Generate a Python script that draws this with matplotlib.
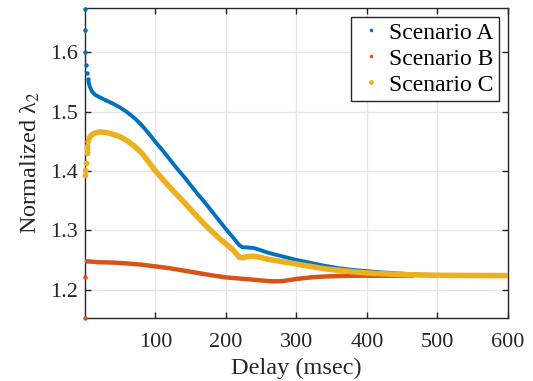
import matplotlib
matplotlib.use("Agg")
import matplotlib.pyplot as plt
from matplotlib.lines import Line2D

# ---------------- data ----------------
labels = ["Scenario A", "Scenario B", "Scenario C"]
colors = ["#0072BD", "#D95319", "#EDB120"]

# isolated first samples (near zero delay)
a_x_head = [0.1, 0.3, 0.6, 2.2, 3.2, 4.2]
a_y_head = [1.674, 1.6375, 1.6005, 1.579, 1.566, 1.556]
b_x_head = [0.1, 0.3]
b_y_head = [1.152, 1.221]
c_x_head = [0.1, 0.3, 1.0, 2.5, 3.0, 3.4]
c_y_head = [1.393, 1.4017, 1.414, 1.430, 1.4365, 1.442]

# dense part of each curve
a_x = [5, 7, 10, 15, 20, 30, 40, 50, 60, 70, 80, 90, 100, 110, 120, 130, 140,
       150, 160, 170, 180, 190, 200, 210, 218, 223, 230, 240, 250, 260, 270,
       280, 290, 300, 320, 340, 360, 380, 400, 420, 440, 460, 480, 500, 550, 600]
a_y = [1.551, 1.542, 1.534, 1.528, 1.525, 1.519, 1.5135, 1.507, 1.499, 1.4895,
       1.478, 1.464, 1.449, 1.435, 1.420, 1.405, 1.391, 1.376, 1.361, 1.347,
       1.332, 1.317, 1.302, 1.288, 1.276, 1.2715, 1.271, 1.270, 1.266, 1.262,
       1.259, 1.256, 1.253, 1.250, 1.245, 1.240, 1.236, 1.233, 1.231, 1.229,
       1.2275, 1.226, 1.225, 1.2245, 1.224, 1.2235]

b_x = [0.6, 10, 20, 40, 60, 80, 100, 120, 140, 160, 180, 200, 220, 240, 260,
       270, 280, 300, 320, 340, 360, 380, 400, 420, 440, 465]
b_y = [1.2476, 1.247, 1.246, 1.2455, 1.244, 1.242, 1.239, 1.236, 1.232, 1.228,
       1.224, 1.2205, 1.2185, 1.2165, 1.2142, 1.2138, 1.2142, 1.2178, 1.2205,
       1.222, 1.2228, 1.2232, 1.2233, 1.2233, 1.2233, 1.2233]

c_x = [4.5, 6, 8, 12, 20, 30, 40, 50, 60, 70, 80, 90, 100, 120, 140, 160, 172,
       180, 190, 200, 210, 219, 223, 230, 240, 250, 260, 270, 280, 290, 300,
       320, 340, 360, 380, 400, 420, 440, 460, 480, 500, 550, 600]
c_y = [1.449, 1.455, 1.459, 1.463, 1.466, 1.465, 1.462, 1.4577, 1.451, 1.442,
       1.431, 1.416, 1.400, 1.373, 1.348, 1.322, 1.307, 1.298, 1.287, 1.277,
       1.267, 1.2545, 1.2535, 1.2555, 1.256, 1.254, 1.251, 1.249, 1.247, 1.245,
       1.243, 1.239, 1.235, 1.2325, 1.230, 1.228, 1.2268, 1.2258, 1.225,
       1.2245, 1.224, 1.2237, 1.2235]

x_ticks = [100, 200, 300, 400, 500, 600]
y_ticks = [1.2, 1.3, 1.4, 1.5, 1.6]

# ---------------- style ----------------
plt.rcParams["font.family"] = ["Liberation Serif", "DejaVu Serif"]
plt.rcParams["mathtext.fontset"] = "stix"
axcol = "#262626"

fig = plt.figure(figsize=(5.33, 3.81), dpi=100)
ax = fig.add_axes([0.1595, 0.1654, 0.953 - 0.1595, 0.979 - 0.1654])

heads = [(a_x_head, a_y_head), (b_x_head, b_y_head), (c_x_head, c_y_head)]
bodies = [(a_x, a_y), (b_x, b_y), (c_x, c_y)]
lws = [2.8, 3.2, 4.0]
head_ms = [3.2, 3.2, 4.2]

for (hx, hy), (bx, by), col, lw, ms in zip(heads, bodies, colors, lws, head_ms):
    ax.plot(bx, by, "-", color=col, lw=lw, solid_capstyle="round",
            solid_joinstyle="round", zorder=3)
    ax.plot(hx, hy, "o", color=col, ms=ms, mew=0, ls="none", zorder=3,
            clip_on=False)

ax.set_xlim(0.1, 600)
ax.set_ylim(1.152, 1.675)
ax.set_xticks(x_ticks)
ax.set_yticks(y_ticks)
ax.set_xticklabels([str(t) for t in x_ticks])
ax.set_yticklabels([f"{t:.1f}" for t in y_ticks])

ax.grid(True, color="#e6e6e6", lw=0.9, zorder=0)
ax.set_axisbelow(True)
for s in ax.spines.values():
    s.set_color(axcol)
    s.set_linewidth(1.0)
ax.tick_params(direction="in", length=4.5, width=1.0, color=axcol,
               labelcolor=axcol, labelsize=16, top=True, right=True)
ax.tick_params(axis="x", pad=11)
ax.tick_params(axis="y", pad=5)

ax.set_xlabel("Delay (msec)", fontsize=17.5, color=axcol, labelpad=4)
ax.set_ylabel("Normalized λ$_2$", fontsize=17.5, color=axcol, labelpad=6)

handles = [Line2D([], [], ls="none", marker="o", color=c, mew=0, ms=m)
           for c, m in zip(colors, [2.6, 2.6, 3.4])]
leg = ax.legend(handles, labels, loc="upper right", fontsize=17,
                frameon=True, fancybox=False, framealpha=1,
                edgecolor=axcol, borderpad=0.22, labelspacing=0.19,
                handlelength=1.25, handletextpad=0.15,
                borderaxespad=0.38)
leg.get_frame().set_linewidth(1.0)
for t in leg.get_texts():
    t.set_color("black")

fig.savefig("out.png", dpi=100)
